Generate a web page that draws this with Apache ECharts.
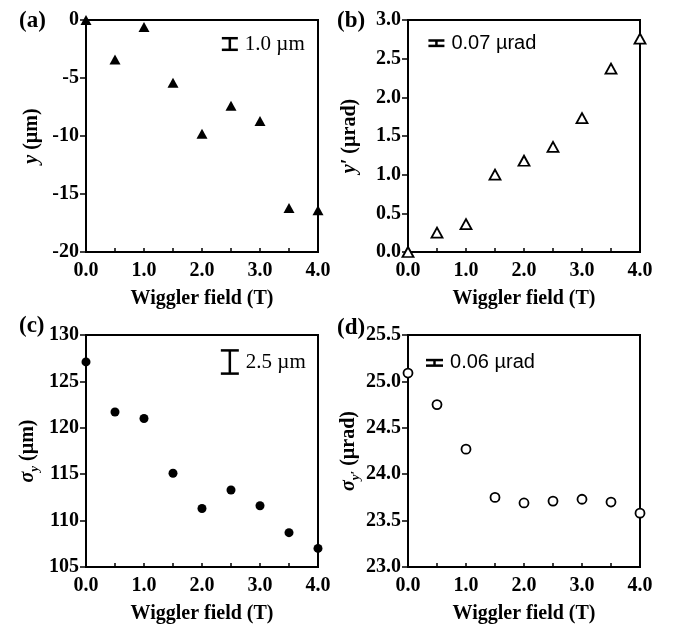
<!DOCTYPE html>
<html lang="en">
<head>
  <meta charset="utf-8">
  <title>Wiggler field scan</title>
  <script type="text/javascript" src="https://fastly.jsdelivr.net/npm/echarts@6/dist/echarts.min.js"></script>
  <style type="text/css">
    * { margin: 0; padding: 0; }
    html, body, #chart { width: 100%; height: 100%; overflow: hidden; background: #fff; }
  </style>
</head>
<body>
  <div id="chart"></div>
  <script type="text/javascript">
    // wiggler field values (T), shared by all four panels
    const field = [0.0, 0.5, 1.0, 1.5, 2.0, 2.5, 3.0, 3.5, 4.0];
    // (a) vertical position y (µm)
    const yPos = [0.0, -3.4, -0.6, -5.4, -9.8, -7.4, -8.7, -16.2, -16.4];
    // (b) vertical angle y' (µrad)
    const yAngle = [0.0, 0.25, 0.36, 1.0, 1.18, 1.36, 1.73, 2.37, 2.76];
    // (c) beam size sigma_y (µm)
    const sigmaY = [127.1, 121.7, 121.0, 115.1, 111.3, 113.3, 111.6, 108.7, 107.0];
    // (d) divergence sigma_y' (µrad)
    const sigmaYp = [25.09, 24.75, 24.27, 23.75, 23.69, 23.71, 23.73, 23.70, 23.58];

    // error-bar scale markers: length in data units and their label
    const barLengths = [1.0, 0.07, 2.5, 0.06];
    const barLabels = ['1.0 µm', '0.07 µrad', '2.5 µm', '0.06 µrad'];

    const panelNames = ['(a)', '(b)', '(c)', '(d)'];
    const yNames = [
      '{i|y} (µm)',
      '{i|y′} (µrad)',
      '{i|σ}{sub|y} (µm)',
      '{i|σ}{sub|y′} (µrad)'
    ];
    const yRanges = [[-20, 0, 5], [0, 3, 0.5], [105, 130, 5], [23, 25.5, 0.5]];

    const serif = '"Liberation Serif", "Times New Roman", serif';
    const sans = '"Liberation Sans", Arial, sans-serif';

    // layout of each panel
    const grids = [
      { left: 86, top: 20, width: 232, height: 232 },
      { left: 408, top: 20, width: 232, height: 232 },
      { left: 86, top: 335, width: 232, height: 232 },
      { left: 408, top: 335, width: 232, height: 232 }
    ];
    const labelPos = [[14, 5], [332, 5], [14, 310], [332, 312]];
    const nameGaps = [41, 45, 45, 45];
    const barAnchors = [[2.48, -2.07], [0.49, 2.70], [2.48, 127.09], [0.457, 25.20]];
    const barHalfW = [8, 8, 9, 8.5];
    const barFonts = ['21px ' + serif, '20px ' + sans, '21px ' + serif, '20px ' + sans];
    const labelFmt = [v => String(v), v => v.toFixed(1), v => String(v), v => v.toFixed(1)];

    const markers = [
      { symbol: 'triangle', symbolSize: [11, 10], itemStyle: { color: '#000', opacity: 1 } },
      { symbol: 'triangle', symbolSize: [11, 10], itemStyle: { color: '#fff', borderColor: '#000', borderWidth: 1.8, opacity: 1 } },
      { symbol: 'circle', symbolSize: 9, itemStyle: { color: '#000', opacity: 1 } },
      { symbol: 'circle', symbolSize: 9, itemStyle: { color: '#fff', borderColor: '#000', borderWidth: 1.8, opacity: 1 } }
    ];
    const values = [yPos, yAngle, sigmaY, sigmaYp];

    const chart = echarts.init(document.getElementById('chart'));

    const option = {
      animation: false,
      backgroundColor: '#fff',
      title: panelNames.map((t, i) => ({
        text: t, left: labelPos[i][0], top: labelPos[i][1],
        textStyle: { fontFamily: serif, fontWeight: 'bold', fontSize: 23, color: '#000' }
      })),
      grid: grids.map(g => Object.assign({ show: true, borderColor: '#000', borderWidth: 2 }, g)),
      xAxis: grids.map((g, i) => ({
        type: 'value', gridIndex: i, min: 0, max: 4, interval: 0.5,
        name: 'Wiggler field (T)', nameLocation: 'middle', nameGap: 37,
        nameTextStyle: { fontFamily: serif, fontWeight: 'bold', fontSize: 20, color: '#000' },
        axisLine: { onZero: false, lineStyle: { color: '#000', width: 2 } },
        axisTick: { inside: true, length: 4, lineStyle: { color: '#000', width: 1.5 } },
        axisLabel: {
          margin: 9, color: '#000', fontFamily: serif, fontWeight: 'bold', fontSize: 20,
          showMinLabel: true, showMaxLabel: true,
          formatter: v => (Math.abs(v - Math.round(v)) < 1e-6 ? v.toFixed(1) : '')
        },
        splitLine: { show: false }
      })),
      yAxis: yRanges.map((r, i) => ({
        type: 'value', gridIndex: i, min: r[0], max: r[1], interval: r[2],
        name: yNames[i], nameLocation: 'middle', nameGap: nameGaps[i],
        nameTextStyle: {
          fontFamily: serif, fontWeight: 'bold', fontSize: 20, color: '#000', lineHeight: 26,
          rich: {
            i: { fontFamily: serif, fontWeight: 'bold', fontStyle: 'italic', fontSize: 20, lineHeight: 26 },
            sub: { fontFamily: serif, fontWeight: 'bold', fontStyle: 'italic', fontSize: 13, lineHeight: 12, verticalAlign: 'bottom' }
          }
        },
        axisLine: { onZero: false, lineStyle: { color: '#000', width: 2 } },
        axisTick: { inside: false, length: 6, lineStyle: { color: '#000', width: 1.5 } },
        axisLabel: {
          margin: 7, color: '#000', fontFamily: serif, fontWeight: 'bold', fontSize: 20,
          showMinLabel: true, showMaxLabel: true, formatter: labelFmt[i]
        },
        splitLine: { show: false }
      })),
      series: []
    };

    values.forEach((vals, i) => {
      option.series.push(Object.assign({
        type: 'scatter', xAxisIndex: i, yAxisIndex: i, clip: false,
        data: field.map((x, k) => [x, vals[k]])
      }, markers[i]));

      // scale bar drawn in data units so its height matches the axis
      option.series.push({
        type: 'custom', xAxisIndex: i, yAxisIndex: i, clip: false, silent: true,
        data: [[barAnchors[i][0], barAnchors[i][1], barLengths[i]]],
        renderItem: (params, api) => {
          const x = api.value(0), y = api.value(1), len = api.value(2);
          const top = api.coord([x, y + len / 2]);
          const bot = api.coord([x, y - len / 2]);
          const hw = barHalfW[i];
          const ls = { stroke: '#000', lineWidth: 2.5 };
          return {
            type: 'group',
            children: [
              { type: 'line', shape: { x1: top[0] - hw, y1: top[1], x2: top[0] + hw, y2: top[1] }, style: ls },
              { type: 'line', shape: { x1: bot[0] - hw, y1: bot[1], x2: bot[0] + hw, y2: bot[1] }, style: ls },
              { type: 'line', shape: { x1: top[0], y1: top[1], x2: bot[0], y2: bot[1] }, style: ls },
              {
                type: 'text',
                style: {
                  text: barLabels[i], x: top[0] + hw + 7, y: (top[1] + bot[1]) / 2,
                  font: barFonts[i], fill: '#000', align: 'left', verticalAlign: 'middle'
                }
              }
            ]
          };
        }
      });
    });

    chart.setOption(option);
  </script>
</body>
</html>
